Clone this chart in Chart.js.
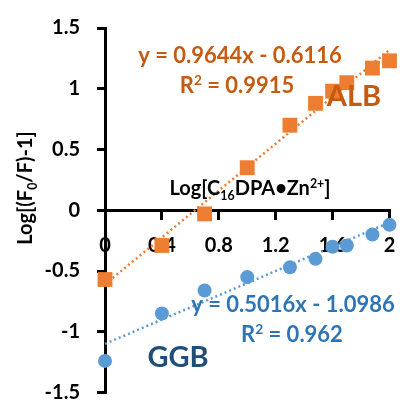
<!DOCTYPE html>
<html><head><meta charset="utf-8">
<script src="https://cdn.jsdelivr.net/npm/chart.js@4/dist/chart.umd.min.js"></script>
<style>html,body{margin:0;padding:0;background:#fff;} #wrap{width:400px;height:403px;position:relative}</style>
</head><body><div id="wrap"><canvas id="c" width="400" height="403"></canvas></div>
<script>
// ---- data ----
const logConc   = [0, 0.4, 0.7, 1.0, 1.3, 1.48, 1.6, 1.7, 1.88, 2.0];
const albValues = [-0.57, -0.29, -0.03, 0.35, 0.70, 0.88, 0.98, 1.05, 1.17, 1.23];
const ggbValues = [-1.24, -0.85, -0.66, -0.55, -0.47, -0.40, -0.30, -0.29, -0.20, -0.12];
const trendX    = [0, 2];
const albTrend  = [-0.61, 1.32];
const ggbTrend  = [-1.10, -0.10];
const xTickValues = [0, 0.4, 0.8, 1.2, 1.6, 2];
const xTickLabels = ['0', '0.4', '0.8', '1.2', '1.6', '2'];
const yTickValues = [-1.5, -1, -0.5, 0, 0.5, 1, 1.5];
const yTickLabels = ['-1.5', '-1', '-0.5', '0', '0.5', '1', '1.5'];
const albEquation = ['y = 0.9644x - 0.6116', 'R² = 0.9915'];
const ggbEquation = ['y = 0.5016x - 1.0986', 'R² = 0.962'];

const FONT = 'Lato, "Open Sans", sans-serif';
const ORANGE = '#ED7D31', ORANGE_TXT = '#C55A11';
const BLUE = '#5B9BD5', BLUE_TXT = '#2E75B6', DARKBLUE = '#1F4E79';

const pts = (xs, ys) => xs.map((x, i) => ({x, y: ys[i]}));

function drawRich(ctx, parts, cx, cy, size, color) {
  ctx.save();
  ctx.fillStyle = color;
  ctx.textBaseline = 'alphabetic';
  ctx.textAlign = 'left';
  let w = 0;
  parts.forEach(p => {
    const s = p.sub || p.sup ? size * 0.62 : size;
    ctx.font = 'bold ' + s + 'px ' + FONT;
    p.w = ctx.measureText(p.t).width; p.s = s; w += p.w;
  });
  let x = cx - w / 2;
  const base = cy + size * 0.36;
  parts.forEach(p => {
    ctx.font = 'bold ' + p.s + 'px ' + FONT;
    const dy = p.sub ? size * 0.22 : (p.sup ? -size * 0.38 : 0);
    ctx.fillText(p.t, x, base + dy);
    x += p.w;
  });
  ctx.restore();
}

const textPlugin = {
  id: 'texts',
  afterDraw(chart) {
    const ctx = chart.ctx;
    // orange equation
    drawRich(ctx, [{t: albEquation[0]}], 240, 55, 22, ORANGE_TXT);
    drawRich(ctx, [{t: 'R'}, {t: '2', sup: true}, {t: albEquation[1].slice(2)}], 237, 85, 22, ORANGE_TXT);
    drawRich(ctx, [{t: 'ALB'}], 354, 96, 29, ORANGE_TXT);
    // blue equation
    drawRich(ctx, [{t: ggbEquation[0]}], 293, 304, 22, BLUE_TXT);
    drawRich(ctx, [{t: 'R'}, {t: '2', sup: true}, {t: ggbEquation[1].slice(2)}], 292, 334, 22, BLUE_TXT);
    drawRich(ctx, [{t: 'GGB'}], 178, 357, 29, DARKBLUE);
    // x-axis title
    drawRich(ctx, [{t: 'Log[C'}, {t: '16', sub: true}, {t: 'DPA\u2022Zn'}, {t: '2+', sup: true}, {t: ']'}], 250, 188, 20, '#000');
    // y-axis title (rotated)
    ctx.save();
    ctx.translate(25, 188);
    ctx.rotate(-Math.PI / 2);
    drawRich(ctx, [{t: 'Log[(F'}, {t: '0', sub: true}, {t: '/F)-1]'}], 0, 0, 20, '#000');
    ctx.restore();
  }
};

new Chart(document.getElementById('c'), {
  type: 'scatter',
  data: {
    datasets: [
      {label: 'ALB trend', type: 'line', data: pts(trendX, albTrend), borderColor: ORANGE, borderWidth: 2.5,
       borderDash: [2, 3], pointRadius: 0, fill: false, clip: false, order: 0},
      {label: 'GGB trend', type: 'line', data: pts(trendX, ggbTrend), borderColor: BLUE, borderWidth: 2.5,
       borderDash: [2, 3], pointRadius: 0, fill: false, clip: false, order: 0},
      {label: 'ALB', data: pts(logConc, albValues), pointStyle: 'rect', pointRadius: 10.5,
       backgroundColor: ORANGE, borderColor: ORANGE, borderWidth: 0, clip: false, order: 1},
      {label: 'GGB', data: pts(logConc, ggbValues), pointStyle: 'circle', pointRadius: 7,
       backgroundColor: BLUE, borderColor: BLUE, borderWidth: 0, clip: false, order: 1}
    ]
  },
  options: {
    responsive: false, animation: false,
    layout: {padding: {top: 28, bottom: 8, left: 0, right: 10}},
    plugins: {legend: {display: false}, tooltip: {enabled: false}},
    scales: {
      x: {
        type: 'linear', min: 0, max: 2, position: {y: 0},
        afterBuildTicks: s => { s.ticks = xTickValues.map(v => ({value: v})); },
        afterFit: s => { s.height = 0; s.paddingLeft = 0; s.paddingRight = 0; },
        ticks: {padding: 15, color: '#000', font: {family: FONT, size: 20, weight: 'bold'},
                maxRotation: 0, autoSkip: false,
                callback: (v) => xTickLabels[xTickValues.indexOf(v)] ?? ''},
        grid: {display: true, drawOnChartArea: false, drawTicks: true, tickLength: 8, color: '#000', lineWidth: 3},
        border: {display: true, color: '#000', width: 3}
      },
      y: {
        type: 'linear', min: -1.5, max: 1.5, position: 'left',
        afterBuildTicks: s => { s.ticks = yTickValues.map(v => ({value: v})); },
        afterFit: s => { s.width = 105; s.paddingTop = 0; s.paddingBottom = 0; },
        ticks: {padding: 17, color: '#000', font: {family: FONT, size: 20, weight: 'bold'}, autoSkip: false,
                callback: (v) => yTickLabels[yTickValues.indexOf(v)] ?? ''},
        grid: {display: true, drawOnChartArea: false, drawTicks: true, tickLength: 8, color: '#000', lineWidth: 3},
        border: {display: true, color: '#000', width: 3}
      }
    }
  },
  plugins: [textPlugin]
});
</script></body></html>
